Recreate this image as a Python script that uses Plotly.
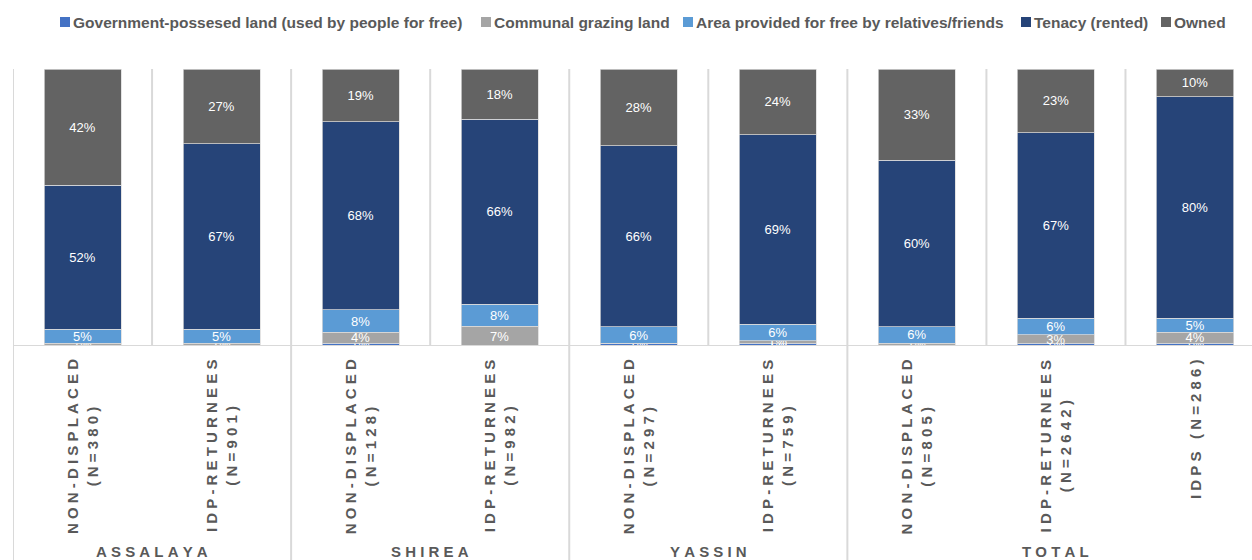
import plotly.graph_objects as go

categories = ["NON-DISPLACED<br>(N=380)", "IDP-RETURNEES<br>(N=901)",
              "NON-DISPLACED<br>(N=128)", "IDP-RETURNEES<br>(N=982)",
              "NON-DISPLACED<br>(N=297)", "IDP-RETURNEES<br>(N=759)",
              "NON-DISPLACED<br>(N=805)", "IDP-RETURNEES<br>(N=2642)",
              "IDPS (N=286)"]
groups = ["ASSALAYA", "SHIREA", "YASSIN", "TOTAL"]
group_centers = [0.5, 2.5, 4.5, 7]

series_names = ["Government-possesed land (used by people for free)",
                "Communal grazing land",
                "Area provided for free by relatives/friends",
                "Tenacy (rented)",
                "Owned"]
government = [0, 0, 1, 0, 1, 1, 0, 1, 1]
communal = [1, 1, 4, 7, 0, 1, 1, 3, 4]
relatives = [5, 5, 8, 8, 6, 6, 6, 6, 5]
tenancy = [52, 67, 68, 66, 66, 69, 60, 67, 80]
owned = [42, 27, 19, 18, 28, 24, 33, 23, 10]
colors = ["#4472C4", "#A5A5A5", "#5B9BD5", "#264478", "#636363"]

W, H = 1252, 560
L, R, T, B = 13, 0, 69, 214
PW = W - L - R
PH = H - T - B
step = 139.06
xmax = (PW / step) - 0.5

def px_x(px):
    return (px - L) / PW

def px_y(py):
    return (H - B - py) / PH

def spaced(s):
    lines = s.split("<br>")
    out = []
    for ln in lines:
        out.append("\u00a0".join(list(ln.replace(" ", "\u00a0"))))
    return "<br>".join(out)

fig = go.Figure()
x = list(range(len(categories)))
for name, vals, col in zip(series_names, [government, communal, relatives, tenancy, owned], colors):
    fig.add_trace(go.Bar(
        x=x, y=vals, name=name, marker=dict(color=col, line=dict(color="#D9D9D9", width=0.75)),
        text=[f"{v}%" for v in vals], textposition="inside", insidetextanchor="middle",
        textangle=0, textfont=dict(color="white", size=13, family="Liberation Sans"),
        showlegend=False, hoverinfo="skip"))

shapes = []
grid = "#D9D9D9"
# inner category boundaries (plot area only)
for b in [0.5, 2.5, 4.5, 6.5, 7.5]:
    shapes.append(dict(type="line", xref="x", yref="paper", x0=b, x1=b, y0=0, y1=1,
                       line=dict(color=grid, width=2)))
# group separators (extend to bottom)
for b in [-0.5, 1.5, 3.5, 5.5]:
    shapes.append(dict(type="line", xref="x", yref="paper", x0=b, x1=b, y0=px_y(H), y1=1,
                       line=dict(color=grid, width=2)))
# baseline
shapes.append(dict(type="line", xref="paper", yref="y", x0=0, x1=1, y0=0, y1=0,
                   line=dict(color=grid, width=2)))

annotations = []
for i, c in enumerate(categories):
    annotations.append(dict(x=i, xref="x", y=px_y(357), yref="paper", yanchor="top",
                            xanchor="center", text="<b>" + spaced(c) + "</b>", textangle=-90,
                            align="center", showarrow=False,
                            font=dict(family="Liberation Sans", size=15, color="#595959")))
for g, gc in zip(groups, group_centers):
    annotations.append(dict(x=gc, xref="x", y=px_y(551), yref="paper", yanchor="middle",
                            xanchor="center", text="<b>" + spaced(g) + "</b>", showarrow=False,
                            font=dict(family="Liberation Sans", size=15, color="#595959")))

# legend
leg_sq = [60, 481, 683, 1021, 1161]
for name, col, sx in zip(series_names, colors, leg_sq):
    shapes.append(dict(type="rect", xref="paper", yref="paper",
                       x0=px_x(sx), x1=px_x(sx + 10), y0=px_y(27), y1=px_y(17),
                       fillcolor=col, line=dict(width=0)))
    annotations.append(dict(x=px_x(sx + 11), xref="paper", y=px_y(22), yref="paper",
                            xanchor="left", yanchor="middle", text="<b>" + name + "</b>",
                            showarrow=False,
                            font=dict(family="Liberation Sans", size=15.5, color="#595959")))

fig.update_layout(
    barmode="stack", barnorm="percent", bargap=0.446, width=W, height=H,
    margin=dict(l=L, r=R, t=T, b=B, pad=0),
    plot_bgcolor="white", paper_bgcolor="white",
    xaxis=dict(range=[-0.5, xmax], showticklabels=False, showgrid=False, zeroline=False,
               tickvals=x, fixedrange=True),
    yaxis=dict(range=[0, 100], showticklabels=False, showgrid=False, zeroline=False),
    uniformtext=dict(minsize=13, mode="show"),
    shapes=shapes, annotations=annotations,
    font=dict(family="Liberation Sans"),
)

fig.write_html("out.html")
